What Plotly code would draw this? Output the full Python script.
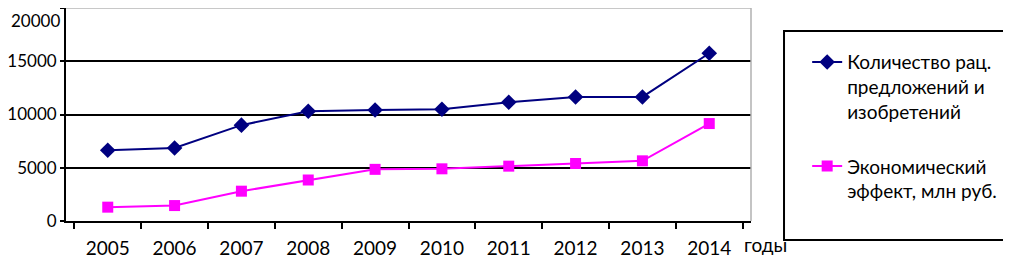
import plotly.graph_objects as go

years = ["2005", "2006", "2007", "2008", "2009", "2010", "2011", "2012", "2013", "2014"]
proposals = [6650, 6850, 9000, 10300, 10420, 10500, 11150, 11650, 11650, 15750]
effect = [1300, 1450, 2800, 3850, 4850, 4900, 5150, 5400, 5650, 9150]
name_proposals = "Количество рац.<br>предложений и<br>изобретений"
name_effect = "Экономический<br>эффект, млн руб."
y_ticks = [0, 5000, 10000, 15000, 20000]
y_tick_labels = ["0", "5000", "10000", "15000", ""]
y_top_label = "20000"

FONT = "Lato"
FS = 19
FS_Y = 17

fig = go.Figure()
fig.add_trace(go.Scatter(
    x=years, y=proposals, name=name_proposals, mode="lines+markers",
    line=dict(color="#000080", width=2),
    marker=dict(symbol="diamond", size=12, color="#000080"),
    legendgroup="a",
))
fig.add_trace(go.Scatter(
    x=years, y=effect, name=name_effect, mode="lines+markers",
    line=dict(color="#FF00FF", width=2),
    marker=dict(symbol="square", size=11, color="#FF00FF"),
    legendgroup="b",
))

# page is offset by the default 8px body margin, so margins compensate
fig.update_layout(
    width=1011, height=262,
    margin=dict(l=58, r=268, t=0, b=49, autoexpand=False),
    paper_bgcolor="white", plot_bgcolor="white",
    font=dict(family=FONT, size=FS, color="black"),
    showlegend=True,
    legend=dict(
        x=1.082, xanchor="left", y=0.835, yanchor="top",
        bgcolor="rgba(0,0,0,0)", borderwidth=0,
        tracegroupgap=27, valign="top",
        font=dict(family=FONT, size=FS, color="black"),
    ),
    xaxis=dict(
        type="category", showgrid=False, showline=True, linecolor="black", linewidth=2,
        ticks="outside", tickson="boundaries", ticklen=6, tickcolor="black", tickwidth=2,
        ticklabelstandoff=9, zeroline=False, automargin=False,
    ),
    yaxis=dict(
        range=[0, 20000], tickvals=y_ticks, ticktext=y_tick_labels,
        tickfont=dict(family=FONT, size=FS_Y, color="black"),
        showgrid=True, gridcolor="black", gridwidth=2,
        showline=True, linecolor="black", linewidth=2,
        ticks="outside", ticklen=4, tickcolor="black", tickwidth=2,
        ticklabelstandoff=0, zeroline=False, automargin=False,
    ),
    shapes=[
        dict(type="line", xref="paper", yref="paper", x0=0, x1=1, y0=1, y1=1,
             line=dict(color="#c8c8c8", width=2), layer="above"),
        dict(type="line", xref="paper", yref="paper", x0=1, x1=1, y0=0, y1=1,
             line=dict(color="#b0b0b0", width=1.5), layer="above"),
        dict(type="rect", xref="paper", yref="paper", x0=1.0482, x1=1.3766, y0=-0.0892, y1=0.892,
             line=dict(color="black", width=2), fillcolor="rgba(0,0,0,0)"),
    ],
    annotations=[
        dict(text="годы", xref="paper", yref="paper", x=0.987, y=0, xanchor="left", yanchor="top",
             yshift=-10, showarrow=False, font=dict(family=FONT, size=FS, color="black")),
        dict(text=y_top_label, xref="paper", yref="paper", x=0, y=1, xanchor="right", yanchor="top",
             xshift=-4, yshift=0, showarrow=False, font=dict(family=FONT, size=FS_Y, color="black")),
    ],
)

fig.write_html("out.html")
